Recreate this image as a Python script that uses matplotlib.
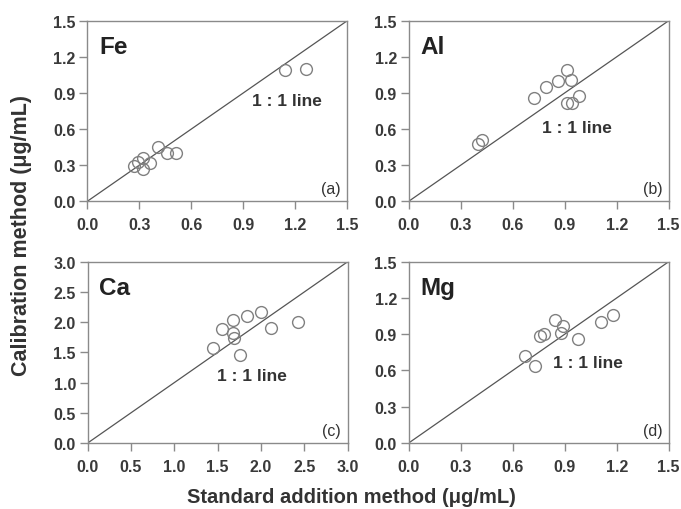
import matplotlib
matplotlib.use("Agg")
import matplotlib.pyplot as plt
import numpy as np

plt.rcParams['font.family'] = ['Liberation Sans', 'DejaVu Sans']

# Data
fe_x = [1.14, 1.26, 0.41, 0.46, 0.51, 0.36, 0.32, 0.29, 0.27, 0.32]
fe_y = [1.09, 1.10, 0.45, 0.40, 0.40, 0.32, 0.36, 0.33, 0.29, 0.27]

al_x = [0.915, 0.935, 0.86, 0.79, 0.72, 0.98, 0.915, 0.94, 0.425, 0.40]
al_y = [1.09, 1.005, 1.00, 0.95, 0.86, 0.875, 0.82, 0.82, 0.505, 0.475]

ca_x = [2.00, 1.84, 1.68, 1.55, 1.68, 1.69, 2.11, 2.43, 1.44, 1.76]
ca_y = [2.17, 2.10, 2.04, 1.89, 1.82, 1.74, 1.90, 2.01, 1.57, 1.45]

mg_x = [1.18, 1.107, 0.845, 0.89, 0.88, 0.78, 0.76, 0.975, 0.67, 0.727]
mg_y = [1.055, 0.998, 1.017, 0.97, 0.907, 0.905, 0.883, 0.86, 0.72, 0.637]

ticks_15 = [0.0, 0.3, 0.6, 0.9, 1.2, 1.5]
ticks_30 = [0.0, 0.5, 1.0, 1.5, 2.0, 2.5, 3.0]

panels = [
    dict(name="Fe", tag="(a)", x=fe_x, y=fe_y, lim=1.5, ticks=ticks_15, lbl=(0.95, 0.835),
         rect=[87.3, 21.7, 260, 180.6]),
    dict(name="Al", tag="(b)", x=al_x, y=al_y, lim=1.5, ticks=ticks_15, lbl=(0.77, 0.61),
         rect=[408.7, 21.7, 260, 180.6]),
    dict(name="Ca", tag="(c)", x=ca_x, y=ca_y, lim=3.0, ticks=ticks_30, lbl=(1.49, 1.11),
         rect=[87.7, 262.7, 260, 181.3]),
    dict(name="Mg", tag="(d)", x=mg_x, y=mg_y, lim=1.5, ticks=ticks_15, lbl=(0.83, 0.667),
         rect=[408.7, 262.7, 260, 181.3]),
]

W, H = 681, 510
fig = plt.figure(figsize=(W / 100, H / 100), dpi=100)
fig.patch.set_facecolor("white")

spine_c = "#8a8a8a"
txt_c = "#3a3a3a"

for p in panels:
    l, t, w, h = p["rect"]
    ax = fig.add_axes([l / W, (H - t - h) / H, w / W, h / H])
    lim = p["lim"]
    ax.plot([0, lim], [0, lim], color="#555555", lw=0.9, zorder=1)
    ax.plot(p["x"], p["y"], linestyle="none", marker="o", markersize=8.5,
            markerfacecolor="none", markeredgecolor="#808080", markeredgewidth=1.0, zorder=2)
    ax.set_xlim(0, lim)
    ax.set_ylim(0, lim)
    ax.set_xticks(p["ticks"])
    ax.set_yticks(p["ticks"])
    ax.set_xticklabels([f"{v:.1f}" for v in p["ticks"]])
    ax.set_yticklabels([f"{v:.1f}" for v in p["ticks"]])
    for s in ax.spines.values():
        s.set_color(spine_c)
        s.set_linewidth(1.0)
    ax.tick_params(direction="out", length=5.5, width=1, color=spine_c,
                   labelsize=11.5, labelcolor=txt_c)
    ax.tick_params(axis="x", pad=6)
    ax.tick_params(axis="y", pad=3)
    for lab in ax.get_xticklabels() + ax.get_yticklabels():
        lab.set_fontweight("bold")
    ax.text(0.045, 0.855, p["name"], transform=ax.transAxes, fontsize=17.5,
            fontweight="bold", color="#222222", ha="left", va="center")
    ax.text(p["lbl"][0], p["lbl"][1], "1 : 1 line", fontsize=12.5, fontweight="bold",
            color="#333333", ha="left", va="center")
    ax.text(0.975, 0.07, p["tag"], transform=ax.transAxes, fontsize=11.5,
            color="#333333", ha="right", va="center")

fig.text(22 / W, 1 - 236 / H, "Calibration method (\u03bcg/mL)", rotation=90,
         fontsize=15.5, fontweight="bold", color="#333333", ha="center", va="center")
fig.text(351 / W, 1 - 498 / H, "Standard addition method (\u03bcg/mL)",
         fontsize=14.5, fontweight="bold", color="#333333", ha="center", va="center")

fig.savefig("out.png", dpi=100, facecolor="white")
